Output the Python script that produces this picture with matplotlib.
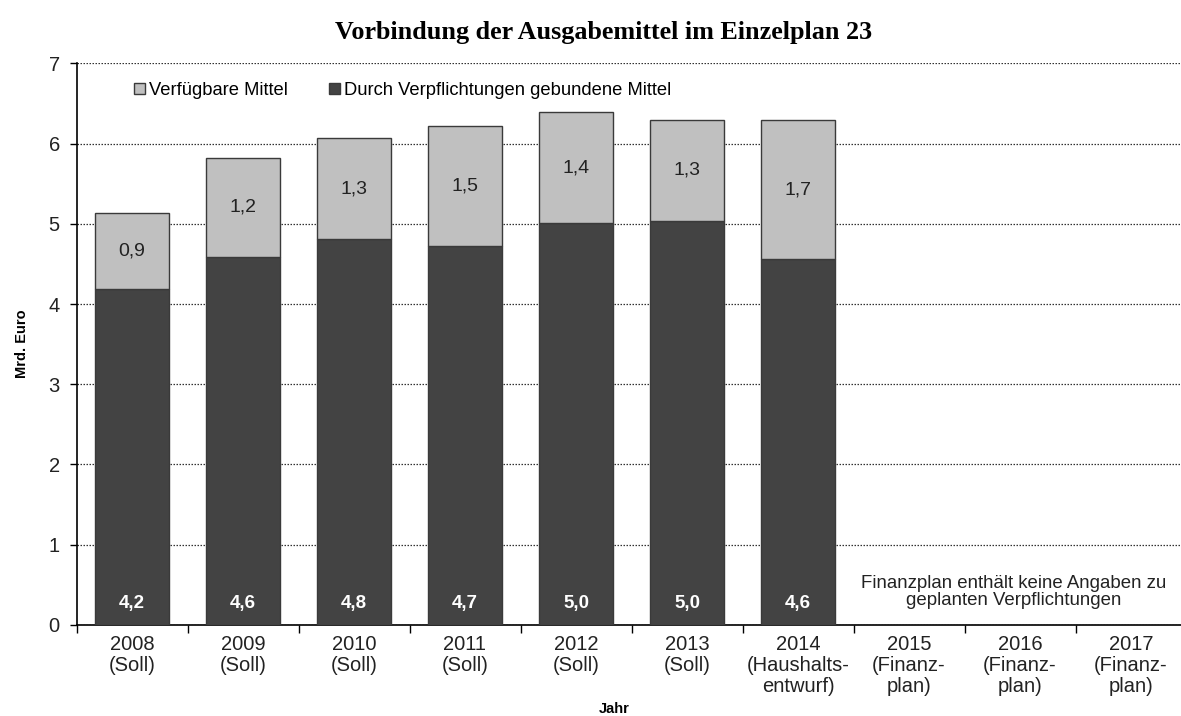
import matplotlib.pyplot as plt
import numpy as np

plt.rcParams['font.family'] = ['Liberation Sans', 'DejaVu Sans']

# Daten (Mrd. Euro)
jahre = ['2008\n(Soll)', '2009\n(Soll)', '2010\n(Soll)', '2011\n(Soll)', '2012\n(Soll)',
         '2013\n(Soll)', '2014\n(Haushalts-\nentwurf)', '2015\n(Finanz-\nplan)',
         '2016\n(Finanz-\nplan)', '2017\n(Finanz-\nplan)']
gebunden = [4.19, 4.59, 4.81, 4.72, 5.01, 5.03, 4.56]
verfuegbar = [0.94, 1.23, 1.26, 1.50, 1.38, 1.27, 1.73]

hell = '#c0c0c0'
dunkel = '#434343'
rand = '#3a3a3a'

fig = plt.figure(figsize=(11.81, 7.16), dpi=100)
ax = fig.add_axes([76.5 / 1181, 91.2 / 716, 1110 / 1181, 561.4 / 716])

x = np.arange(len(gebunden))
b1 = ax.bar(x, gebunden, width=0.67, color=dunkel, edgecolor=rand, linewidth=1,
            label='Durch Verpflichtungen gebundene Mittel', zorder=3)
b2 = ax.bar(x, verfuegbar, bottom=gebunden, width=0.67, color=hell, edgecolor=rand,
            linewidth=1, label='Verfügbare Mittel', zorder=3)

# Werte in die Balken schreiben
for xi, g, v in zip(x, gebunden, verfuegbar):
    ax.text(xi, 0.27, f'{g:.1f}'.replace('.', ','), ha='center', va='center',
            color='white', fontsize=13.5, fontweight='bold', zorder=4)
    ax.text(xi, g + v / 2, f'{v:.1f}'.replace('.', ','), ha='center', va='center',
            color='#222222', fontsize=14, zorder=4)

ax.set_xlim(-0.5, len(jahre) - 0.5)
ax.set_ylim(0, 7)
ax.set_yticks(range(8))
ax.set_xticks(np.arange(len(jahre)))
ax.set_xticklabels(jahre, fontsize=14.5, va='top', linespacing=1.15)
ax.set_xticks(np.arange(len(jahre) + 1) - 0.5, minor=True)
ax.tick_params(axis='x', which='major', length=0, pad=7, labelcolor='#222222')
ax.tick_params(axis='x', which='minor', length=6, width=1, direction='out')
ax.tick_params(axis='y', length=5, width=1, direction='out', labelsize=14.5, pad=7,
               labelcolor='#222222')

ax.grid(axis='y', linestyle=(0, (1.2, 1.2)), color='#333333', linewidth=0.9, zorder=0)
ax.set_axisbelow(True)
for s in ['top', 'right']:
    ax.spines[s].set_visible(False)
ax.spines['left'].set_linewidth(1.2)
ax.spines['bottom'].set_linewidth(1.2)

ax.text(7.94, 0.41, 'Finanzplan enthält keine Angaben zu\ngeplanten Verpflichtungen',
        ha='center', va='center', fontsize=13.4, color='#222222', linespacing=0.98)

ax.legend(handles=[b2, b1], loc='upper left', bbox_to_anchor=(0.040, 0.990), ncol=2,
          frameon=False, fontsize=13.2, handlelength=0.6, handleheight=0.6,
          handletextpad=0.25, columnspacing=2.2, borderaxespad=0.3)

ax.set_ylabel('Mrd. Euro', fontsize=10.5, fontweight='bold', labelpad=14)
fig.text(614 / 1181, 1 - 709 / 716, 'Jahr', ha='center', va='center',
         fontsize=10.5, fontweight='bold')
fig.text(604 / 1181, 1 - 33 / 716, 'Vorbindung der Ausgabemittel im Einzelplan 23',
         ha='center', va='center', fontsize=18.8, fontweight='bold',
         family=['Liberation Serif', 'DejaVu Serif'])

fig.savefig('out.png', dpi=100)
